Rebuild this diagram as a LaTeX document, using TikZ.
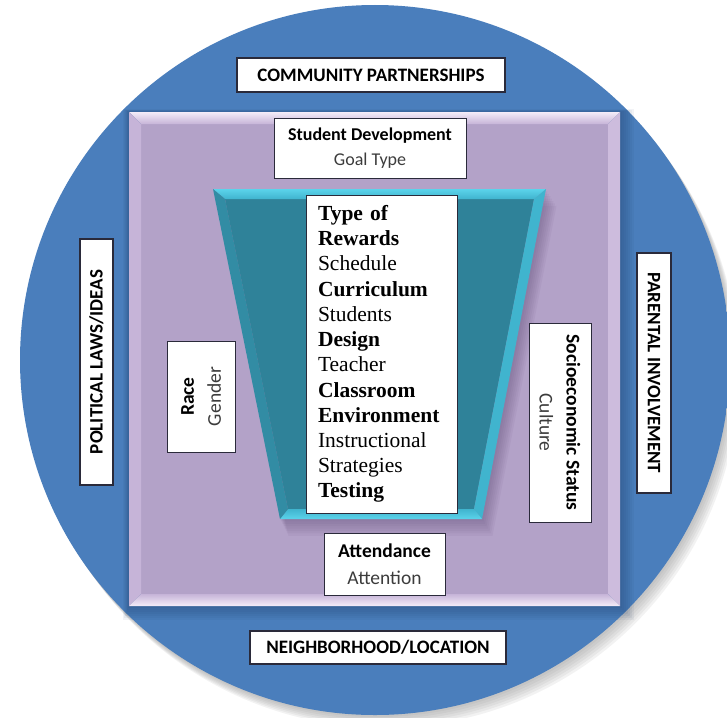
\documentclass[tikz,border=0pt]{standalone}
\usepackage{fontspec}
\setmainfont{Liberation Serif}
\newfontfamily\carlito{Carlito}

\definecolor{circblue}{HTML}{4A7EBC}
\definecolor{rimblue}{HTML}{5FA3EC}
\definecolor{rimlight}{HTML}{A8D2F7}
\definecolor{lavface}{HTML}{B3A2C8}
\definecolor{lavlight}{HTML}{F4ECF8}
\definecolor{lavside}{HTML}{C6B4D8}
\definecolor{tealface}{HTML}{2F8299}
\definecolor{tealbright}{HTML}{5BD3EB}
\definecolor{tealside}{HTML}{40B4CE}
\definecolor{boxline}{HTML}{2A2A3A}
\definecolor{subgray}{HTML}{3C3C3C}
\definecolor{navyshade}{HTML}{1E3A66}
\definecolor{plumshade}{HTML}{5E4A74}

\pgfdeclareradialshading{bluedisc}{\pgfpoint{0bp}{0bp}}{color(0bp)=(circblue); color(46bp)=(circblue); color(48.6bp)=(rimblue); color(49.6bp)=(rimlight); color(50bp)=(white)}

\begin{document}
\begin{tikzpicture}[x=1pt,y=-1pt]
        \tikzstyle{outerbox}=[draw=boxline, line width=1.1pt, fill=white, inner sep=0pt, font=\carlito\bfseries\fontsize{19}{22}\selectfont]
        \tikzstyle{innerbox}=[draw=boxline, line width=1pt, fill=white, inner sep=0pt, align=center, font=\carlito\fontsize{19.5}{27}\selectfont]
        \tikzstyle{listbox}=[draw=boxline, line width=1pt, fill=white, inner sep=0pt, text width=127pt, align=left, font=\fontsize{21.5}{25.2}\selectfont]
        \useasboundingbox (0,0) rectangle (727,717);
        \foreach \s in {3,6,...,18} \fill[black!45, opacity=0.11] (375+\s*0.5,360+\s*0.7) circle (355);
        \shade[shading=bluedisc] (375,360) circle (355);
        \foreach \s in {2,4,...,14} \fill[navyshade, opacity=0.06] (129-\s*0.4,112-\s*0.2) rectangle (620+\s,606+\s);
        % lavender square
        \fill[lavface] (141,124) rectangle (608,594);
        \shade[top color=lavlight, bottom color=lavside] (129,112) -- (620,112) -- (608,124) -- (141,124) -- cycle;
        \fill[lavside] (129,112) -- (141,124) -- (141,594) -- (129,606) -- cycle;
        \fill[lavside!85!lavlight] (620,112) -- (608,124) -- (608,594) -- (620,606) -- cycle;
        \shade[top color=lavside, bottom color=lavlight] (129,606) -- (141,594) -- (608,594) -- (620,606) -- cycle;
        % teal funnel
        \foreach \s in {3,6,...,21} \fill[plumshade, opacity=0.07] (213+\s*0.4,189+\s*0.8) -- (546+\s*0.5,189+\s*0.8) -- (482+\s*0.5,519+\s*0.8) -- (280+\s*0.4,519+\s*0.8) -- cycle;
        \fill[tealface] (225,199) -- (534,199) -- (474,509) -- (288,509) -- cycle;
        \shade[top color=tealbright, bottom color=tealside] (213,189) -- (546,189) -- (534,199) -- (225,199) -- cycle;
        \fill[tealside] (546,189) -- (482,519) -- (474,509) -- (534,199) -- cycle;
        \shade[top color=tealside, bottom color=tealbright] (280,519) -- (482,519) -- (474,509) -- (288,509) -- cycle;
        \fill[tealface!80!tealside] (213,189) -- (225,199) -- (288,509) -- (280,519) -- cycle;

        \node[outerbox, minimum width=268pt, minimum height=34pt] (community) at (371,75) {COMMUNITY PARTNERSHIPS};
        \node[outerbox, minimum width=256pt, minimum height=33pt] (neighbourhood) at (378,647.5) {NEIGHBORHOOD/LOCATION};
        \node[outerbox, rotate=90, minimum width=246pt, minimum height=33pt] (political) at (96.5,362) {POLITICAL LAWS/IDEAS};
        \node[outerbox, rotate=-90, minimum width=240pt, minimum height=34pt] (parental) at (654,373) {PARENTAL INVOLVEMENT};

        \node[innerbox, font=\carlito\fontsize{18}{24.5}\selectfont, minimum width=192pt, minimum height=60pt] (development) at (370,148) {\textbf{Student Development}\\{\color{subgray}Goal Type}};
        \node[innerbox, minimum width=121pt, minimum height=62pt] (attendance) at (384.5,564) {\textbf{Attendance}\\{\color{subgray}Attention}};
        \node[innerbox, rotate=90, minimum width=111pt, minimum height=68pt] (race) at (201,396.5) {\textbf{Race}\\{\color{subgray}Gender}};
        \node[innerbox, rotate=-90, minimum width=199pt, minimum height=62pt] (socio) at (560,422.5) {\textbf{Socioeconomic Status}\\{\color{subgray}Culture}};

        \node[listbox, minimum width=151pt, minimum height=318pt] (factors) at (381.5,354) {\textbf{Type of}\\ \textbf{Rewards}\\ Schedule\\ \textbf{Curriculum}\\ Students\\ \textbf{Design}\\ Teacher\\ \textbf{Classroom}\\ \textbf{Environment}\\ Instructional\\ Strategies\\ \textbf{Testing}};
\end{tikzpicture}
\end{document}
